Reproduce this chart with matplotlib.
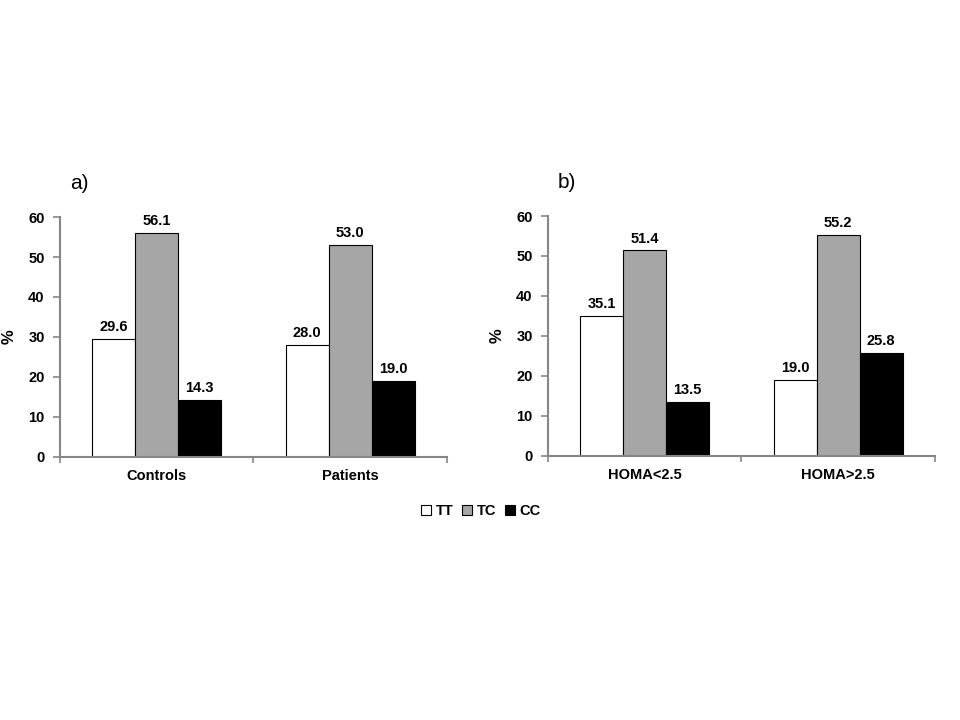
import numpy as np
import matplotlib.pyplot as plt
from matplotlib.patches import Patch

plt.rcParams['font.family'] = ['Liberation Sans Narrow', 'Liberation Sans', 'DejaVu Sans']

genotypes = ["TT", "TC", "CC"]
colors = ["white", "#a6a6a6", "black"]

groups_a = ["Controls", "Patients"]
values_a = [[29.6, 28.0], [56.1, 53.0], [14.3, 19.0]]

groups_b = ["HOMA<2.5", "HOMA>2.5"]
values_b = [[35.1, 19.0], [51.4, 55.2], [13.5, 25.8]]

axis_grey = "#868686"


def draw_panel(ax, groups, values, tag):
    width = 0.222
    centers = np.arange(len(groups)) + 0.5
    for i, vals in enumerate(values):
        xs = centers + (i - 1) * width
        ax.bar(xs, vals, width, color=colors[i], edgecolor="black", linewidth=0.8, zorder=2)
        for x, v in zip(xs, vals):
            ax.text(x, v + 1.2, f"{v:.1f}", ha="center", va="bottom",
                    fontsize=10.5, fontweight="bold")
    ax.set_xlim(0, len(groups))
    ax.set_ylim(0, 60)
    ax.set_yticks(range(0, 61, 10))
    ax.set_xticks(np.arange(len(groups) + 1))
    ax.set_xticklabels([])
    ax.set_xticks(centers, minor=True)
    ax.set_xticklabels(groups, minor=True, fontsize=10.5, fontweight="bold")
    ax.tick_params(axis="x", which="minor", length=0, pad=9)
    ax.tick_params(axis="x", which="major", length=4, color=axis_grey, width=1.2)
    ax.tick_params(axis="y", length=5, color=axis_grey, width=1.2, labelsize=10.5, pad=6)
    for lbl in ax.get_yticklabels():
        lbl.set_fontweight("bold")
    for s in ["top", "right"]:
        ax.spines[s].set_visible(False)
    for s in ["left", "bottom"]:
        ax.spines[s].set_color(axis_grey)
        ax.spines[s].set_linewidth(1.5)
    ax.set_ylabel("%", fontsize=12, fontweight="bold", labelpad=8)
    ax.text(0.025, 1.1, tag, transform=ax.transAxes, fontsize=15,
            family=["Liberation Sans", "DejaVu Sans"], ha="left", va="bottom")


fig = plt.figure(figsize=(9.6, 7.2), dpi=100)
ax1 = fig.add_axes([0.0625, 0.3653, 0.403, 0.3333])
ax2 = fig.add_axes([0.5708, 0.3667, 0.403, 0.3333])

draw_panel(ax1, groups_a, values_a, "a)")
draw_panel(ax2, groups_b, values_b, "b)")

handles = [Patch(facecolor=c, edgecolor="black", linewidth=0.8) for c in colors]
leg = fig.legend(handles, genotypes, loc="center", bbox_to_anchor=(0.501, 0.29),
                 ncol=3, frameon=False, handlelength=0.7, handleheight=0.7,
                 handletextpad=0.3, columnspacing=0.6,
                 prop={"weight": "bold", "size": 10.5,
                       "family": ["Liberation Sans Narrow", "Liberation Sans"]})

fig.savefig("out.png", dpi=100)
